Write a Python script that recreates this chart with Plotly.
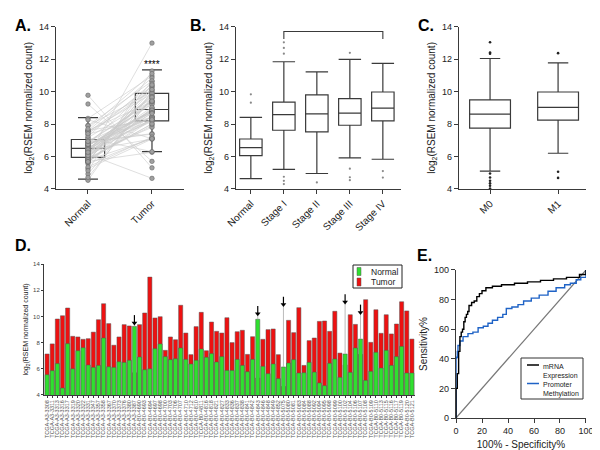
import plotly.graph_objects as go

# paired samples (panel D bars, panel A points)
sample_ids = [
    "TCGA-A3-3308", "TCGA-A3-3311", "TCGA-A3-3313", "TCGA-A3-3316", "TCGA-A3-3317", "TCGA-A3-3319",
    "TCGA-A3-3320", "TCGA-A3-3322", "TCGA-A3-3331", "TCGA-A3-3347", "TCGA-A3-3357", "TCGA-A3-3358",
    "TCGA-A3-3367", "TCGA-A3-3370", "TCGA-A3-3373", "TCGA-A3-3376", "TCGA-A3-3380", "TCGA-A3-3387",
    "TCGA-B0-4690", "TCGA-B0-4693", "TCGA-B0-4694", "TCGA-B0-4697", "TCGA-B0-4698", "TCGA-B0-4700",
    "TCGA-B0-4703", "TCGA-B0-4706", "TCGA-B0-4707", "TCGA-B0-4710", "TCGA-B0-4712", "TCGA-B0-4810",
    "TCGA-B0-4811", "TCGA-B0-4816", "TCGA-B0-4818", "TCGA-B0-4821", "TCGA-B0-4827", "TCGA-B0-4833",
    "TCGA-B0-4836", "TCGA-B0-4837", "TCGA-B0-4838", "TCGA-B0-4841", "TCGA-B0-4842", "TCGA-B0-4843",
    "TCGA-B0-4846", "TCGA-B0-4848", "TCGA-B0-4849", "TCGA-B0-4852", "TCGA-B0-5075", "TCGA-B0-5080",
    "TCGA-B0-5081", "TCGA-B0-5083", "TCGA-B0-5084", "TCGA-B0-5088", "TCGA-B0-5092", "TCGA-B0-5094",
    "TCGA-B0-5095", "TCGA-B0-5098", "TCGA-B0-5099", "TCGA-B0-5100", "TCGA-B0-5102", "TCGA-B0-5104",
    "TCGA-B0-5106", "TCGA-B0-5107", "TCGA-B0-5108", "TCGA-B0-5109", "TCGA-B0-5110", "TCGA-B0-5113",
    "TCGA-B0-5115", "TCGA-B0-5116", "TCGA-B0-5117", "TCGA-B0-5119", "TCGA-B0-5120", "TCGA-B0-5121",
]
normal_vals = [
    5.55, 5.86, 6.4, 4.53, 7.92, 6.0, 7.38, 7.61, 6.29, 6.11, 6.26, 8.35,
    6.16, 6.11, 6.54, 6.49, 6.65, 9.24, 6.9, 5.93, 6.0, 7.54, 7.9, 6.93,
    6.7, 6.77, 7.59, 6.72, 6.37, 6.65, 7.51, 6.88, 7.16, 6.52, 6.93, 5.88,
    5.88, 6.72, 6.26, 5.78, 6.72, 9.78, 6.19, 5.63, 6.37, 5.25, 6.14, 6.44,
    6.7, 5.68, 5.7, 6.49, 5.75, 4.92, 4.71, 6.42, 6.75, 5.35, 7.13, 5.73,
    7.59, 8.27, 5.12, 5.81, 7.26, 6.06, 7.41, 6.26, 6.93, 7.71, 5.68, 5.68,
]
tumor_vals = [
    7.13, 7.9, 9.8, 10.05, 10.64, 8.48, 8.43, 8.25, 8.3, 8.8, 9.75, 10.97,
    9.45, 7.8, 8.43, 9.37, 9.27, 5.7, 9.37, 10.26, 13.0, 9.88, 9.98, 7.41,
    8.43, 8.22, 10.85, 8.73, 7.08, 9.22, 10.31, 7.38, 9.57, 8.86, 8.73, 9.9,
    8.0, 8.83, 8.94, 7.1, 8.45, 5.3, 8.25, 8.99, 9.04, 7.08, 4.65, 9.7,
    8.76, 10.67, 6.26, 8.15, 8.35, 9.62, 9.65, 8.86, 10.39, 7.2, 6.3, 10.13,
    9.39, 7.1, 11.28, 8.02, 10.51, 8.71, 10.13, 8.66, 9.42, 11.12, 10.42, 8.27,
]
# samples where normal > tumor (arrows in D)
arrow_idx = [17, 41, 46, 58, 61]
arrow_tail = [10.1, 10.8, 11.5, 11.7, 10.9]

# panel A box stats
a_groups = ["Normal", "Tumor"]
a_q1 = [5.95, 8.2]
a_med = [6.5, 8.9]
a_q3 = [7.05, 9.9]
a_lo = [4.6, 6.3]
a_hi = [8.4, 11.35]

# panel B box stats
b_groups = ["Normal", "Stage I", "Stage II", "Stage III", "Stage IV"]
b_q1 = [6.05, 7.62, 7.52, 7.93, 8.2]
b_med = [6.55, 8.58, 8.63, 8.68, 8.98]
b_q3 = [7.08, 9.36, 9.8, 9.57, 9.98]
b_lo = [4.63, 5.2, 4.95, 5.92, 5.83]
b_hi = [8.42, 11.85, 11.22, 12.0, 11.75]
b_out_x = [0, 0, 1, 1, 1, 1, 1, 1, 2, 3, 3, 3, 3, 4, 4]
b_out_y = [9.32, 9.84, 12.35, 12.7, 13.05, 4.75, 4.5, 4.3, 4.4, 12.4, 5.25, 4.72, 4.54, 5.1, 4.7]

# panel C box stats
c_groups = ["M0", "M1"]
c_q1 = [7.75, 8.24]
c_med = [8.62, 9.03]
c_q3 = [9.5, 9.98]
c_lo = [5.1, 6.2]
c_hi = [12.05, 11.78]
c_out_x = [0, 0, 0, 0, 0, 0, 0, 0, 0, 1, 1, 1]
c_out_y = [13.05, 12.42, 12.35, 4.95, 4.7, 4.5, 4.35, 4.2, 4.02, 12.38, 5.06, 4.68]

# panel E ROC curves (100% - specificity, sensitivity)
mrna_fpr = [0, 0, 1, 1, 2, 2, 3, 3, 4, 5, 6, 7, 8, 9, 10, 12, 14, 16, 18, 20, 23, 28, 35, 45, 55, 65, 75, 85, 95, 100]
mrna_sens = [0, 20, 20, 30, 30, 45, 45, 55, 58, 60, 65, 68, 70, 72, 76, 78, 79, 82, 84, 86, 88, 89, 90, 91, 92, 93, 94, 95, 97, 100]
meth_fpr = [0, 0, 0.5, 1, 1.5, 3, 5.4, 9.2, 13, 17, 21, 24.6, 28, 32, 36, 38.7, 43, 47.7, 52, 57.9, 64, 70.8, 77, 83.6, 88, 92.5, 96, 100]
meth_sens = [0, 40.5, 41, 45, 49, 52, 55, 57, 58, 61, 62, 64, 66, 68, 70, 74, 75, 76.6, 79, 81, 83, 85.6, 88, 90, 91, 93.4, 95, 100]

# legend entries
d_legend = ["Normal", "Tumor"]
d_colors = ["#2fe02f", "#ee1111"]
e_legend = ["mRNA<br>Expression", "Promoter<br>Methylation"]
e_colors = ["black", "#1f63c6"]

FONT = "Liberation Sans"
GREY = "#3a3a3a"
W, H = 600, 450

fig = go.Figure()

# ---- panel A
lx, ly = [], []
for n, t in zip(normal_vals, tumor_vals):
    lx += [0, 1, None]
    ly += [n, t, None]
fig.add_trace(go.Scatter(x=lx, y=ly, mode="lines", line=dict(color="#c9c9c9", width=0.6),
                         showlegend=False, hoverinfo="skip", xaxis="x", yaxis="y"))
fig.add_trace(go.Scatter(x=[0] * len(normal_vals) + [1] * len(tumor_vals), y=normal_vals + tumor_vals,
                         mode="markers", marker=dict(size=4.5, color="#a0a0a0", line=dict(color="#666", width=0.6)),
                         showlegend=False, xaxis="x", yaxis="y"))
fig.add_trace(go.Box(x=[0, 1], q1=a_q1, median=a_med, q3=a_q3, lowerfence=a_lo, upperfence=a_hi,
                     width=0.52, whiskerwidth=0.6, boxpoints=False, fillcolor="rgba(0,0,0,0)",
                     line=dict(color=GREY, width=1.2), showlegend=False, xaxis="x", yaxis="y"))

# ---- panel B
fig.add_trace(go.Box(x=list(range(len(b_groups))), q1=b_q1, median=b_med, q3=b_q3, lowerfence=b_lo, upperfence=b_hi,
                     width=0.68, whiskerwidth=1, boxpoints=False, fillcolor="white",
                     line=dict(color=GREY, width=1.2), showlegend=False, xaxis="x2", yaxis="y2"))
fig.add_trace(go.Scatter(x=b_out_x, y=b_out_y, mode="markers", marker=dict(size=2.2, color="#888"),
                         showlegend=False, xaxis="x2", yaxis="y2"))
fig.add_trace(go.Scatter(x=[1, 1, 4, 4], y=[13.25, 13.72, 13.72, 13.25], mode="lines", cliponaxis=False,
                         line=dict(color=GREY, width=1.1), showlegend=False, xaxis="x2", yaxis="y2"))

# ---- panel C
fig.add_trace(go.Box(x=list(range(len(c_groups))), q1=c_q1, median=c_med, q3=c_q3, lowerfence=c_lo, upperfence=c_hi,
                     width=0.6, whiskerwidth=0.5, boxpoints=False, fillcolor="white",
                     line=dict(color=GREY, width=1.2), showlegend=False, xaxis="x3", yaxis="y3"))
fig.add_trace(go.Scatter(x=c_out_x, y=c_out_y, mode="markers", marker=dict(size=2.6, color="#222"),
                         cliponaxis=False, showlegend=False, xaxis="x3", yaxis="y3"))

# ---- panel D
xs = list(range(len(sample_ids)))
fig.add_trace(go.Bar(x=xs, y=tumor_vals, name="Tumor", marker=dict(color=d_colors[1], line=dict(color="#555", width=0.5)),
                     width=0.8, showlegend=False, xaxis="x4", yaxis="y4"))
fig.add_trace(go.Bar(x=xs, y=normal_vals, name="Normal", marker=dict(color=d_colors[0], line=dict(color="#555", width=0.5)),
                     width=0.8, showlegend=False, xaxis="x4", yaxis="y4"))
gx, gy, bx, by, hx, hy = [], [], [], [], [], []
for i, tail in zip(arrow_idx, arrow_tail):
    head = tail - 0.75
    gx += [i, i, None]
    gy += [normal_vals[i], head, None]
    bx += [i, i, None]
    by += [tail, head + 0.2, None]
    hx.append(i)
    hy.append(head + 0.15)
fig.add_trace(go.Scatter(x=gx, y=gy, mode="lines", line=dict(color="#aaa", width=0.8),
                         showlegend=False, xaxis="x4", yaxis="y4"))
fig.add_trace(go.Scatter(x=bx, y=by, mode="lines", line=dict(color="black", width=1.2),
                         showlegend=False, xaxis="x4", yaxis="y4"))
fig.add_trace(go.Scatter(x=hx, y=hy, mode="markers", marker=dict(symbol="triangle-down", size=5, color="black"),
                         showlegend=False, xaxis="x4", yaxis="y4"))

# ---- panel E
fig.add_trace(go.Scatter(x=[0, 100], y=[0, 100], mode="lines", line=dict(color="#777", width=1.2),
                         showlegend=False, xaxis="x5", yaxis="y5"))
fig.add_trace(go.Scatter(x=meth_fpr, y=meth_sens, mode="lines", name="Promoter Methylation",
                         line=dict(color=e_colors[1], width=1.4, shape="hv"), showlegend=False, xaxis="x5", yaxis="y5"))
fig.add_trace(go.Scatter(x=mrna_fpr, y=mrna_sens, mode="lines", name="mRNA Expression",
                         line=dict(color=e_colors[0], width=1.4, shape="hv"), showlegend=False, xaxis="x5", yaxis="y5"))

ytitle = "log<sub>2</sub>(RSEM normalized count)"
ax_common = dict(showline=True, linecolor=GREY, linewidth=1.2, ticks="outside", ticklen=4, tickcolor=GREY,
                 showgrid=False, zeroline=False, automargin=False, tickfont=dict(size=9, color="#222"))

def box_y(domain):
    return dict(ax_common, domain=domain, range=[4, 14], dtick=2, title=dict(text=ytitle, font=dict(size=10), standoff=4))

def cat_x(domain, anchor, groups, rng):
    return dict(ax_common, domain=domain, anchor=anchor, range=rng, tickvals=list(range(len(groups))),
                ticktext=groups, tickangle=-45, tickfont=dict(size=10, color="#222"))

top = [0.598, 0.958]
fig.update_layout(
    width=W, height=H, margin=dict(l=0, r=0, t=0, b=0),
    paper_bgcolor="white", plot_bgcolor="white",
    font=dict(family=FONT, color="#222"),
    barmode="overlay", showlegend=False,
    xaxis=cat_x([0.08, 0.2933], "y", a_groups, [-0.5, 1.5]),
    yaxis=dict(box_y(top), anchor="x"),
    xaxis2=cat_x([0.38, 0.655], "y2", b_groups, [-0.45, 4.55]),
    yaxis2=dict(box_y(top), anchor="x2"),
    xaxis3=cat_x([0.7517, 0.9633], "y3", c_groups, [-0.456, 1.41]),
    yaxis3=dict(box_y(top), anchor="x3"),
    xaxis4=dict(ax_common, domain=[0.06, 0.6783], anchor="y4", range=[-0.6, len(sample_ids) - 0.4],
                tickvals=xs, ticktext=sample_ids, tickangle=-90, ticklen=2, linewidth=1,
                tickfont=dict(size=5.5, color="#555")),
    yaxis4=dict(ax_common, domain=[0.14, 0.4311], anchor="x4", range=[4, 14], dtick=2, ticklen=2, linewidth=1,
                tickfont=dict(size=6, color="#444"),
                title=dict(text=ytitle, font=dict(size=7), standoff=3)),
    xaxis5=dict(ax_common, domain=[0.7467, 0.9633], anchor="y5", range=[0, 100], dtick=20,
                title=dict(text="100% - Specificity%", font=dict(size=10), standoff=6)),
    yaxis5=dict(ax_common, domain=[0.0889, 0.4178], anchor="x5", range=[0, 100], dtick=20,
                title=dict(text="Sensitivity%", font=dict(size=10), standoff=4)),
)

shapes = []
annos = []
for txt, px, py in [("A.", 5, 17), ("B.", 180, 17), ("C.", 408, 17), ("D.", 5, 238), ("E.", 407, 247)]:
    annos.append(dict(text=f"<b>{txt}</b>", x=px / W, y=1 - py / H, xref="paper", yref="paper",
                      xanchor="left", yanchor="middle", showarrow=False, font=dict(size=16, color="black")))
annos.append(dict(text="****", x=1, y=11.65, xref="x", yref="y", showarrow=False, font=dict(size=10, color="black")))
annos.append(dict(text="****", x=2.5, y=14.05, xref="x2", yref="y2", showarrow=False, font=dict(size=10, color="black")))

# hand-drawn legend boxes (pixel layout)
def paper_rect(x0, y0, x1, y1, **kw):
    return dict(type="rect", xref="paper", yref="paper", x0=x0 / W, x1=x1 / W, y0=1 - y1 / H, y1=1 - y0 / H, **kw)

shapes.append(paper_rect(345, 257, 394, 280, line=dict(color="#222", width=1), fillcolor="white"))
for k, (lab, col) in enumerate(zip(d_legend, d_colors)):
    yc = 263.5 + k * 10.5
    shapes.append(paper_rect(349, yc - 4, 353, yc + 4, line=dict(color="#555", width=0.5), fillcolor=col))
    annos.append(dict(text=lab, x=361 / W, y=1 - yc / H, xref="paper", yref="paper", xanchor="left",
                      yanchor="middle", showarrow=False, font=dict(size=8.5, color="#222")))

shapes.append(paper_rect(513, 350, 575, 391, line=dict(color="#333", width=1), fillcolor="white"))
for k, (lab, col) in enumerate(zip(e_legend, e_colors)):
    yc = 357 + k * 18.5
    shapes.append(dict(type="line", xref="paper", yref="paper", x0=519 / W, x1=531 / W, y0=1 - yc / H, y1=1 - yc / H,
                       line=dict(color=col, width=1.5)))
    annos.append(dict(text=lab, x=533 / W, y=1 - (yc - 4.5) / H, xref="paper", yref="paper", xanchor="left",
                      yanchor="top", align="left", showarrow=False, font=dict(size=7, color="#222")))

fig.update_layout(annotations=annos, shapes=shapes)

fig.write_html("out.html")
